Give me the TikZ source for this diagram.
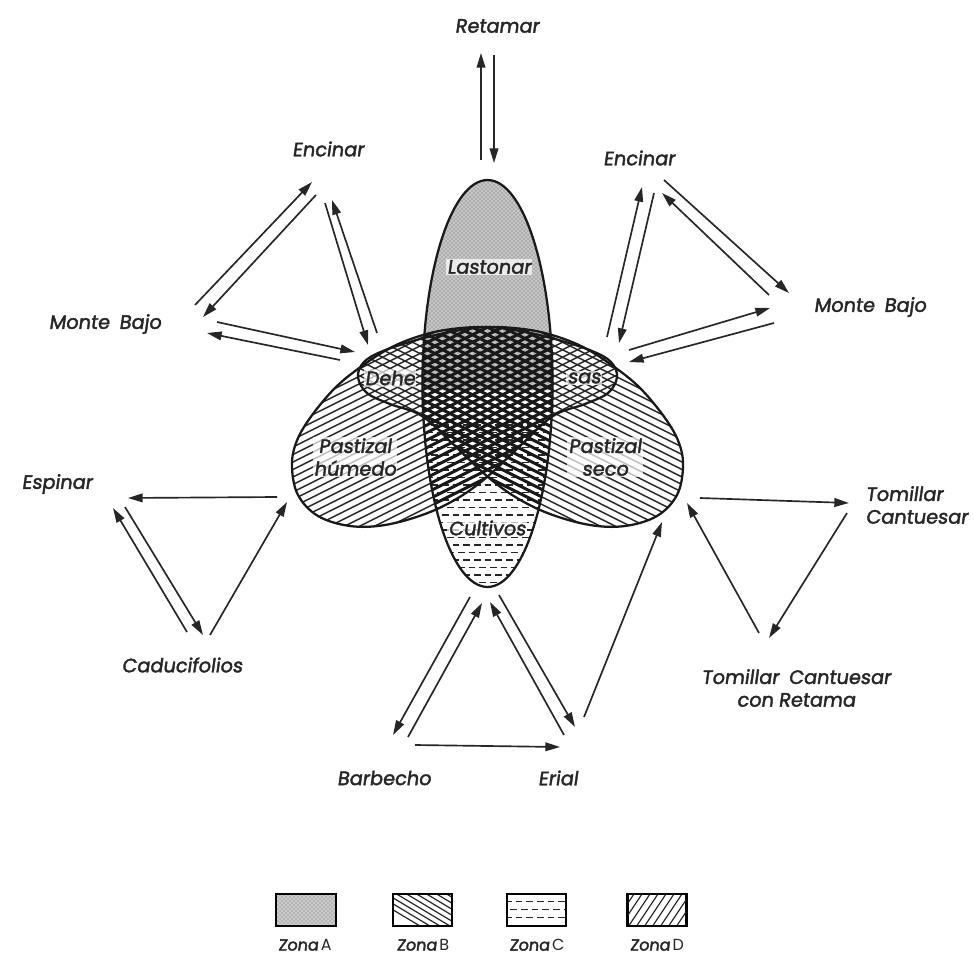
\documentclass[tikz,border=0pt]{standalone}
\usepackage{fontspec}
\setmainfont{Poppins}
\newfontfamily\labfont{Poppins}[FakeSlant=0.14, FakeBold=2]
\newfontfamily\zonafont{Poppins}[FakeSlant=0.12, FakeBold=2.5]
\usetikzlibrary{arrows.meta,patterns}
\tikzset{
  arr/.style={-{Triangle[length=11pt,width=6.5pt]}, line width=1.25pt, black!85},
  lab/.style={font=\labfont\fontsize{14.5}{17}\selectfont, inner sep=1pt, black!85},
  inlab/.style={lab, fill=white, fill opacity=0.7, text opacity=1},
  leglab/.style={font=\fontsize{12}{14}\selectfont, inner sep=1pt, black!85},
  legbox/.style={draw, line width=1.1pt, minimum width=43.5pt, minimum height=23.25pt, inner sep=0pt},
  hatch/.style={line width=1.1pt, black!85},
  thickhatch/.style={line width=2.3pt, black!90},
  outline/.style={line width=1.7pt, black!90},
  dashrow/.style={line width=1pt, black!85, dash pattern=on 5pt off 3pt},
}
\begin{document}
\begin{tikzpicture}[x=0.75pt,y=-0.75pt]
\useasboundingbox (0,0) rectangle (974,959);
\fill[white] (0,0) rectangle (974,959);

\def\lshape{plot[smooth cycle, tension=0.6] coordinates {(617,377) (611,362) (592,351) (555,339) (520,331) (487,327) (452,329) (423,335) (392,347) (362,366) (335,388) (310,418) (296,443) (292,467) (298,495) (318,516) (350,526) (385,525) (425,514) (458,498) (487,477) (520,446) (553,416) (585,404) (608,393)}}
\def\vell{(487.5,383.5) ellipse [x radius=48.75pt, y radius=152.6pt]}

% Zona A: Lastonar stipple
\begin{scope}
  \clip \vell;
  \fill[black!22] (380,150) rectangle (600,390);
  \fill[pattern=crosshatch dots, pattern color=black!65] (380,150) rectangle (600,390);
\end{scope}
% Zona C: Cultivos dashes
\begin{scope}
  \clip \vell;
  \foreach \k in {0,...,11} {
    \draw[dashrow] (410,{425+15*\k}) -- (570,{425+15*\k});
    \draw[dashrow, dash phase=4pt] (410,{432.5+15*\k}) -- (570,{432.5+15*\k});
  }
\end{scope}
% Zona D: Pastizal humedo
\begin{scope}
  \clip \lshape;
  \foreach \k in {0,...,50} \draw[hatch] (280,{326+7.5*\k}) -- ++(350,-175);
  \clip \vell;
  \foreach \k in {0,...,50} \draw[thickhatch] (280,{326+7.5*\k}) -- ++(350,-175);
\end{scope}
% Zona B: Pastizal seco (mirror image)
\begin{scope}[shift={(975,0)}, xscale=-1]
  \clip \lshape;
  \foreach \k in {0,...,50} \draw[hatch] (280,{326+7.5*\k}) -- ++(350,-175);
  \clip \vell;
  \foreach \k in {0,...,50} \draw[thickhatch] (280,{326+7.5*\k}) -- ++(350,-175);
\end{scope}
% outlines
\draw[outline] \vell;
\draw[outline] \lshape;
\begin{scope}[shift={(975,0)}, xscale=-1]
  \draw[outline] \lshape;
\end{scope}

% labels
\node[lab] (retamar) at (497,26) {Retamar};
\node[lab] (encL) at (328,149) {Encinar};
\node[lab] (encR) at (639,158) {Encinar};
\node[lab] (mbL) at (105,324) {Monte\enspace Bajo};
\node[lab] (mbR) at (870,307) {Monte\enspace Bajo};
\node[inlab] (lastonar) at (489,267) {Lastonar};
\node[inlab] (dehe) at (390,378) {Dehe};
\node[inlab] (sas) at (584,378) {sas};
\node[inlab, align=center] (phum) at (355,457) {Pastizal\\húmedo};
\node[inlab, align=center] (pseco) at (605,457) {Pastizal\\seco};
\node[inlab] (cultivos) at (487,528) {Cultivos};
\node[lab] (espinar) at (57,484) {Espinar};
\node[lab] (caduc) at (182,665) {Caducifolios};
\node[lab, align=left, anchor=west] (tomillar) at (864,505) {Tomillar\\Cantuesar};
\node[lab, align=center] (tcr) at (796,688) {Tomillar\enspace Cantuesar\\con Retama};
\node[lab] (barbecho) at (384,778) {Barbecho};
\node[lab] (erial) at (558,778) {Erial};

% arrows
\foreach \n/\a/\b in {
  ret1/{481,160}/{481,53}, ret2/{494,55}/{494,163},
  el1/{316,195}/{203,317}, el2/{195,305}/{312,182},
  el3/{325,203}/{368,345}, el4/{377,333}/{332,200},
  ml1/{217,322}/{355,352}, ml2/{340,360}/{207,333},
  er1/{607,337}/{642,187}, er2/{654,193}/{619,343},
  er3/{664,180}/{789,293}, er4/{769,295}/{662,193},
  mr1/{629,350}/{770,308}, mr2/{774,323}/{629,362},
  es1/{277,497}/{128,498}, es2/{125,507}/{203,635},
  es3/{187,632}/{113,508}, ca1/{210,635}/{287,502},
  ba1/{470,597}/{393,735}, ba2/{408,737}/{482,603},
  ba3/{415,745}/{560,747},
  eri1/{499,595}/{575,727}, eri2/{564,735}/{490,602},
  eri3/{584,717}/{662,522},
  to1/{700,498}/{849,503}, to2/{847,513}/{769,638},
  to3/{759,633}/{687,503}} {
  \coordinate (\n-s) at (\a);
  \coordinate (\n-e) at (\b);
  \draw[arr] (\n-s) -- (\n-e);
}

% legend
\node[legbox] (boxA) at (306,910) {};
\node[legbox] (boxB) at (422.5,910) {};
\node[legbox] (boxC) at (536.5,910) {};
\node[legbox] (boxD) at (657,910) {};
\begin{scope}
  \clip (boxA.south west) rectangle (boxA.north east);
  \fill[black!20] (boxA.south west) rectangle (boxA.north east);
  \fill[pattern=crosshatch dots, pattern color=black!60] (boxA.south west) rectangle (boxA.north east);
\end{scope}
\begin{scope}
  \clip (boxB.south west) rectangle (boxB.north east);
  \foreach \k in {0,...,12} \draw[hatch, line width=0.9pt] ({340+10*\k},878) -- ++(80,48);
\end{scope}
\begin{scope}
  \clip (boxC.south west) rectangle (boxC.north east);
  \draw[dashrow] (505,901.5) -- (570,901.5);
  \draw[dashrow, dash phase=4pt] (505,909.5) -- (570,909.5);
  \draw[dashrow] (505,917.5) -- (570,917.5);
\end{scope}
\begin{scope}
  \clip (boxD.south west) rectangle (boxD.north east);
  \foreach \k in {0,...,14} \draw[hatch, line width=0.9pt] ({600+8*\k},933) -- ++(30,-45);
\end{scope}
\draw[line width=1.4pt] (boxA.south west) rectangle (boxA.north east);
\draw[line width=1.4pt] (boxB.south west) rectangle (boxB.north east);
\draw[line width=1.4pt] (boxC.south west) rectangle (boxC.north east);
\draw[line width=1.4pt] (boxD.south west) rectangle (boxD.north east);
\node[leglab] (labA) at (305,945) {{\zonafont Zona}\,A};
\node[leglab] (labB) at (423,945) {{\zonafont Zona}\,B};
\node[leglab] (labC) at (537,945) {{\zonafont Zona}\,C};
\node[leglab] (labD) at (657,945) {{\zonafont Zona}\,D};
\end{tikzpicture}
\end{document}
